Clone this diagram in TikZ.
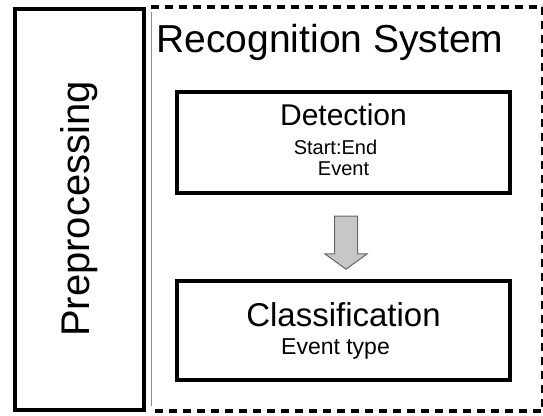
\documentclass[tikz,border=0pt]{standalone}
\usepackage{fontspec}
\setmainfont{Liberation Sans}
\usetikzlibrary{shapes.arrows, positioning}

\begin{document}
\begin{tikzpicture}[x=1pt, y=-1pt,
    stagebox/.style={rectangle, draw, line width=4pt, minimum width=333pt,
                     minimum height=#1, align=center, inner sep=0pt,
                     font=\fontsize{20}{21}\selectfont},
    bigtext/.style={font=\fontsize{#1}{#1}\selectfont},
    flowarrow/.style={single arrow, draw=black!60, fill=black!22, line width=1pt,
                      shape border rotate=270, minimum height=53pt, inner sep=11pt,
                      single arrow tip angle=108, single arrow head extend=9.5pt},
    sysframe/.style={line width=3.5pt, dash pattern=on 8pt off 6pt},
]
\useasboundingbox (0,0) rectangle (543,415);

% preprocessing block on the left
\node[rectangle, draw, line width=4pt, rotate=90, minimum width=401pt,
      minimum height=129.5pt, inner sep=0pt, bigtext=40] (prep) at (79.25,209) {Preprocessing};

% recognition system frame
\draw[sysframe] (151,7) -- (543,7) -- (543,411) -- (151,411);
\draw[black!45, line width=0.6pt] (151,12) -- (151,406);
\node[anchor=base, inner sep=0pt, bigtext=39] (title) at (330,52) {Recognition System};

% stages
\node[stagebox=101pt, text depth=6pt] (detect) at (343.5,142.5)
    {{\fontsize{30}{30}\selectfont Detection}\\[8pt]
     Start:End\hspace*{16pt}\mbox{}\\ Event};
\node[stagebox=99pt, font=\fontsize{23}{24}\selectfont] (classify) at (343.5,330.5)
    {{\fontsize{33}{33}\selectfont Classification}\\[4pt]
     Event type\hspace*{16pt}\mbox{}};

\node[flowarrow] (step1) at (346,238.5) {};
\end{tikzpicture}
\end{document}
